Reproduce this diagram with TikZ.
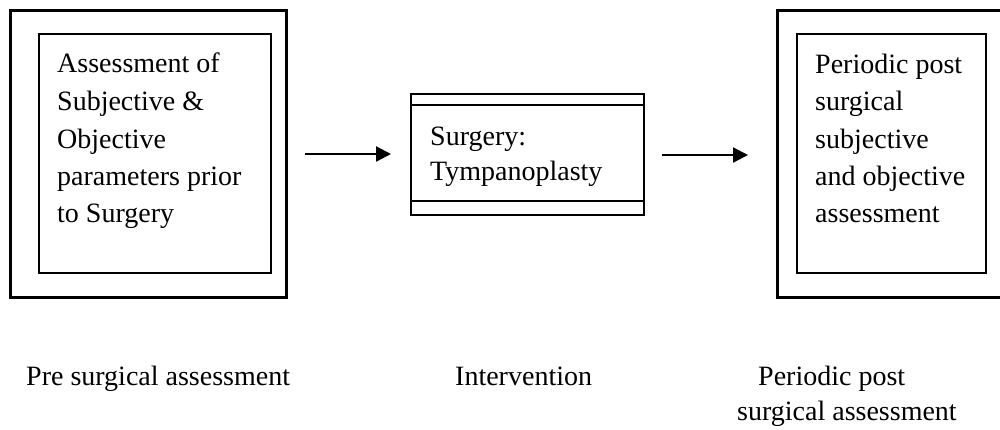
\documentclass[tikz,border=0pt]{standalone}
\usepackage{fontspec}
\setmainfont{Liberation Serif}
\usetikzlibrary{arrows.meta}
\begin{document}
\begin{tikzpicture}[x=1pt,y=-1pt,
  outerbox/.style={draw=black,line width=3pt},
  innerbox/.style={draw=black,line width=2.6pt},
  midbox/.style={draw=black,line width=2.4pt},
  txt/.style={anchor=base west,inner sep=0pt,font=\fontsize{28}{35}\selectfont},
  flow/.style={line width=2.2pt,-{Triangle[length=15pt,width=15pt]}}]
\useasboundingbox (0,0) rectangle (1000,429);
% left boxes
\draw[outerbox] (10,10) rectangle (286,297);
\draw[innerbox] (39,34) rectangle (271,273);
\node[txt] (l1) at (57,72) {Assessment of};
\node[txt] (l2) at (57,110) {Subjective \&};
\node[txt] (l3) at (57,148) {Objective};
\node[txt] (l4) at (57,185) {parameters prior};
\node[txt] (l5) at (57,222) {to Surgery};
% middle box
\draw[midbox] (411,94) rectangle (644,215);
\draw[midbox] (411,105) -- (644,105);
\draw[midbox] (411,201) -- (644,201);
\node[txt] (m1) at (430,145) {Surgery:};
\node[txt] (m2) at (430,180) {Tympanoplasty};
% right boxes
\draw[outerbox] (777,10) rectangle (1001,297);
\draw[innerbox] (797,34) rectangle (986,273);
\node[txt] (r1) at (815,73) {Periodic post};
\node[txt] (r2) at (815,110) {surgical};
\node[txt] (r3) at (815,148) {subjective};
\node[txt] (r4) at (815,185) {and objective};
\node[txt] (r5) at (815,222) {assessment};
% arrows
\coordinate (a1s) at (305,154);
\coordinate (a1e) at (391,154);
\coordinate (a2s) at (662,155);
\coordinate (a2e) at (748,155);
\draw[flow] (a1s) -- (a1e);
\draw[flow] (a2s) -- (a2e);
% bottom labels
\node[txt] (b1) at (26,385) {Pre surgical assessment};
\node[txt] (b2) at (455,385) {Intervention};
\node[txt] (b3) at (758,385) {Periodic post};
\node[txt] (b4) at (737,420) {surgical assessment};
\end{tikzpicture}
\end{document}
